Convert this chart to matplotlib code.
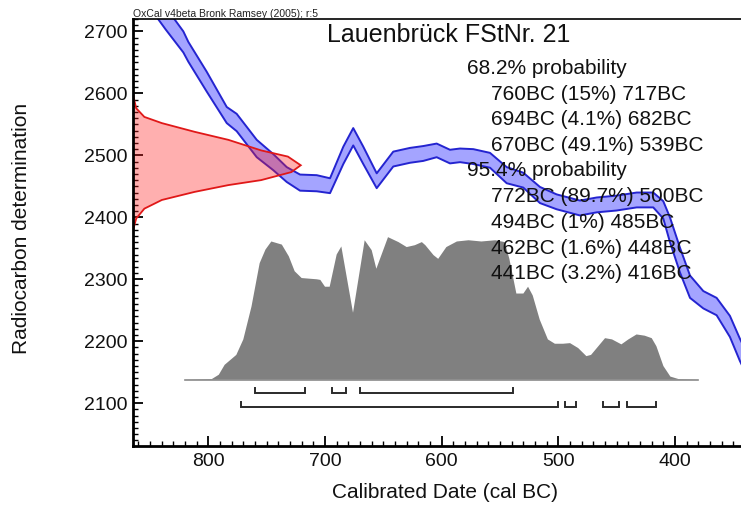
import matplotlib
matplotlib.use('Agg')
import matplotlib.pyplot as plt
import numpy as np
from matplotlib.ticker import MultipleLocator

plt.rcParams['font.family'] = ['Liberation Sans', 'DejaVu Sans']

# ---- data ----
# calibration curve (IntCal) : calendar years BC, radiocarbon BP centre, half width
cal_years = [845, 836.5, 821.4, 817.1, 801.4, 784.2, 775.7, 758.5, 744.3, 732.8,
             721.4, 707.1, 695.7, 684.3, 675.8, 667.2, 655.7, 641.5, 627.2, 615.8,
             604.3, 592.9, 584.3, 572.9, 558.6, 544.3, 530.1, 515.8, 501.5, 481.5,
             467.2, 450.0, 432.9, 418.7, 410.1, 404.4, 395.8, 387.2, 375.8, 364.4,
             353.0, 344.4, 335]
curve_bp = [2745, 2721, 2683, 2667, 2619, 2565, 2553, 2511, 2489, 2469,
            2456, 2455, 2451, 2500, 2530, 2500, 2459, 2494, 2500, 2503,
            2508, 2498, 2500, 2498, 2492, 2468, 2460, 2436, 2425, 2415,
            2420, 2423, 2428, 2428, 2412, 2380, 2331, 2288, 2267, 2256,
            2224, 2186, 2150]
curve_sigma = [20, 18, 17, 16, 16, 13, 14, 14, 13, 12,
               13, 13, 12, 14, 14, 14, 12, 12, 12, 12,
               11, 11, 11, 12, 12, 13, 12, 13, 12, 12,
               12, 12, 12, 12, 14, 20, 20, 18, 14, 14,
               17, 18, 18]

# radiocarbon measurement distribution (width in years from axis, BP value)
meas_width = [0, 1, 3, 10, 25, 53, 82, 110, 133, 144,
              136, 110, 82, 53, 25, 10, 3, 0]
meas_bp = [2605, 2592, 2576, 2562, 2552, 2538, 2525, 2508, 2498, 2484,
           2473, 2460, 2452, 2441, 2428, 2414, 2398, 2377]

# calibrated date distribution
hist_years = [820, 797, 791, 786, 776, 770, 763, 756, 751, 746,
              737, 731, 726, 720, 707, 704, 700, 696, 690, 686,
              676, 666, 660, 656, 646, 637, 630, 623, 617, 614,
              607, 603, 596, 587, 577, 566, 554, 546, 542, 536,
              530, 526, 522, 516, 509, 503, 496, 490, 483, 476,
              472, 460, 454, 446, 440, 433, 426, 420, 416, 410,
              404, 397, 380]
hist_prob = [0, 1, 8, 24, 40, 65, 118, 188, 210, 223,
             218, 199, 175, 164, 162, 161, 150, 150, 202, 215,
             108, 225, 209, 179, 230, 222, 214, 217, 222, 217,
             201, 195, 214, 223, 225, 223, 225, 222, 195, 139,
             139, 150, 136, 97, 65, 58, 58, 59, 51, 38,
             40, 67, 65, 57, 65, 73, 71, 67, 54, 22,
             5, 1, 0]

range68_start = [760, 694, 670]
range68_end = [717, 682, 539]
range95_start = [772, 494, 462, 441]
range95_end = [500, 485, 448, 416]

title = "Lauenbrück FStNr. 21"
prob_lines = ["68.2% probability",
              "760BC (15%) 717BC",
              "694BC (4.1%) 682BC",
              "670BC (49.1%) 539BC",
              "95.4% probability",
              "772BC (89.7%) 500BC",
              "494BC (1%) 485BC",
              "462BC (1.6%) 448BC",
              "441BC (3.2%) 416BC"]
header = "OxCal v4beta Bronk Ramsey (2005); r:5"

# ---- layout ----
W, H = 741, 515
fig = plt.figure(figsize=(W / 100, H / 100), dpi=100)
ax_left, ax_top, ax_bottom = 132.7, 19, 446
ax = fig.add_axes([ax_left / W, (H - ax_bottom) / H, 1 - ax_left / W, (ax_bottom - ax_top) / H])
XL, XR = 864.8, 343.5
ax.set_xlim(XL, XR)
ax.set_ylim(2031, 2720)

# calibration curve band
cx = np.array(cal_years)
cy = np.array(curve_bp)
cs = np.array(curve_sigma)
ax.fill_between(cx, cy - cs, cy + cs, facecolor=(0.15, 0.15, 1.0, 0.42), edgecolor='none', zorder=2)
ax.plot(cx, cy + cs, color='#2424d0', lw=1.4, zorder=2.2)
ax.plot(cx, cy - cs, color='#2424d0', lw=1.4, zorder=2.2)

# measurement distribution
mx = XL - np.array(meas_width)
ax.fill(mx, meas_bp, facecolor=(1.0, 0.1, 0.1, 0.35), edgecolor='#e01818', lw=1.3, zorder=2.5)

# calibrated distribution
base = 2138
hy = np.array(hist_years)
hp = np.array(hist_prob)
ax.fill_between(hy, base, base + hp, facecolor='#808080', edgecolor='none', zorder=3)
ax.plot([hy[0], hy[-1]], [base, base], color='#8a8a8a', lw=1.2, zorder=3)

# range brackets
def bracket(starts, ends, yv, t=8):
    for a, b in zip(starts, ends):
        ax.plot([a, a, b, b], [yv + t, yv, yv, yv + t], color='#2a2a2a', lw=1.4,
                solid_joinstyle='miter', zorder=3)

bracket(range68_start, range68_end, 2116)
bracket(range95_start, range95_end, 2094.5)

# axes styling
ax.xaxis.set_major_locator(MultipleLocator(100))
ax.xaxis.set_minor_locator(MultipleLocator(10))
ax.yaxis.set_major_locator(MultipleLocator(100))
ax.yaxis.set_minor_locator(MultipleLocator(10))
ax.tick_params(which='major', direction='in', length=7, width=1.3, labelsize=14,
               top=False, right=False)
ax.tick_params(which='minor', direction='in', length=3.5, width=1.0, top=False, right=False)
ax.tick_params(axis='x', which='major', pad=5)
ax.tick_params(axis='y', which='major', pad=3.5)
for lab in ax.get_xticklabels() + ax.get_yticklabels():
    lab.set_color('#111111')
ax.spines['right'].set_visible(False)
ax.spines['left'].set_linewidth(2)
ax.spines['bottom'].set_linewidth(2)
ax.spines['top'].set_linewidth(1.2)

# texts
fig.text(449 / W, 1 - 42.3 / H, title, ha='center', va='baseline', fontsize=18, color='#111111', zorder=10)
baselines = [74.5, 100, 125.5, 151, 176.5, 202.5, 227.5, 253.5, 279]
for i, (txt, yb) in enumerate(zip(prob_lines, baselines)):
    xs = 466.7 if 'probability' in txt else 490.7
    fig.text(xs / W, 1 - yb / H, txt, ha='left', va='baseline', fontsize=15, color='#111111', zorder=10)
fig.text(133 / W, 1 - 17.3 / H, header, ha='left', va='baseline', fontsize=7.5, color='#222222')
fig.text(445 / W, 1 - 498 / H, "Calibrated Date (cal BC)", ha='center', va='baseline', fontsize=15, color='#111111')
fig.text(22 / W, 1 - 228 / H, "Radiocarbon determination", ha='center', va='center', rotation=90,
         fontsize=15, color='#111111')

fig.savefig('out.png', dpi=100)
